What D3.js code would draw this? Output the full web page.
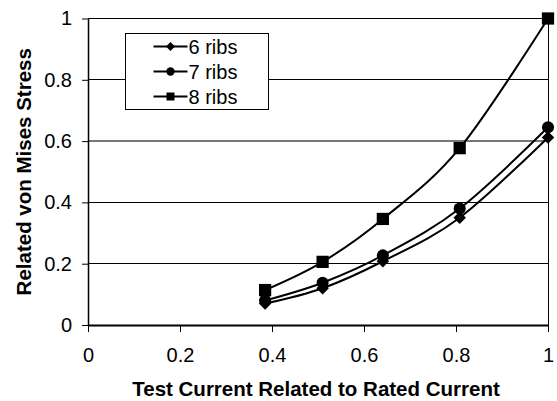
<!DOCTYPE html>
<html>
<head>
<meta charset="utf-8">
<script src="https://cdn.jsdelivr.net/npm/d3@7"></script>
<style>
  body { margin: 0; background: #fff; }
  svg { display: block; font-family: Arial, 'Liberation Sans', sans-serif; }
</style>
</head>
<body>
<div id="chart"></div>
<script>
const currents = [0.385, 0.51, 0.641, 0.808, 1.0]
const ribs6 = [0.07, 0.12, 0.208, 0.35, 0.612]
const ribs7 = [0.08, 0.138, 0.227, 0.38, 0.645]
const ribs8 = [0.114, 0.206, 0.346, 0.577, 1.0]
const seriesNames = ['6 ribs', '7 ribs', '8 ribs']
const xTicks = [0, 0.2, 0.4, 0.6, 0.8, 1]
const yTicks = [0, 0.2, 0.4, 0.6, 0.8, 1]

const width = 557
const height = 401
const margin = { top: 18.5, right: 9, bottom: 76, left: 88 }

const svg = d3.select('#chart')
  .append('svg')
  .attr('width', width)
  .attr('height', height)

const x = d3.scaleLinear()
  .domain([0, 1])
  .range([margin.left, width - margin.right])

const y = d3.scaleLinear()
  .domain([0, 1])
  .range([height - margin.bottom, margin.top])

// gridlines
svg.append('g')
  .selectAll('line')
  .data(yTicks.filter((d) => d > 0))
  .join('line')
  .attr('x1', x(0))
  .attr('x2', x(1))
  .attr('y1', (d) => y(d))
  .attr('y2', (d) => y(d))
  .attr('stroke', (d) => (d === 0.6 ? '#777' : '#000'))
  .attr('stroke-width', (d) => (d === 0.6 ? 1.3 : 1))
  .attr('shape-rendering', 'crispEdges')

// right border
svg.append('line')
  .attr('x1', x(1)).attr('x2', x(1))
  .attr('y1', y(1)).attr('y2', y(0))
  .attr('stroke', '#000')
  .attr('shape-rendering', 'crispEdges')

const xAxis = d3.axisBottom(x)
  .tickValues(xTicks)
  .tickFormat(d3.format('~g'))
  .tickSize(7)
  .tickSizeOuter(0)

const yAxis = d3.axisLeft(y)
  .tickValues(yTicks)
  .tickFormat(d3.format('~g'))
  .tickSize(6)
  .tickSizeOuter(0)

svg.append('g')
  .attr('transform', `translate(0, ${y(0)})`)
  .call(xAxis)
  .call((g) => g.select('.domain').attr('stroke-width', 2))
  .call((g) => g.selectAll('.tick line').attr('stroke-width', 1))
  .call((g) => g.selectAll('text')
    .attr('font-size', 20)
    .attr('font-family', 'Arial, Liberation Sans, sans-serif')
    .attr('fill', '#000')
    .attr('y', 37)
    .attr('dy', null))

svg.append('g')
  .attr('transform', `translate(${x(0)}, 0)`)
  .call(yAxis)
  .call((g) => g.select('.domain').attr('stroke-width', 1.5))
  .call((g) => g.selectAll('text')
    .attr('font-size', 20)
    .attr('font-family', 'Arial, Liberation Sans, sans-serif')
    .attr('fill', '#000')
    .attr('x', -16))

// axis titles
svg.append('text')
  .attr('x', 316)
  .attr('y', 396)
  .attr('text-anchor', 'middle')
  .attr('font-size', 20.5)
  .attr('font-weight', 'bold')
  .text('Test Current Related to Rated Current')

svg.append('text')
  .attr('transform', `translate(31, ${(y(0) + y(1)) / 2}) rotate(-90)`)
  .attr('text-anchor', 'middle')
  .attr('font-size', 20.5)
  .attr('font-weight', 'bold')
  .text('Related von Mises Stress')

// diamonds are drawn as squares turned 45 degrees, like the original
const series = [
  { name: seriesNames[0], values: ribs6, shape: d3.symbolSquare, rot: 45 },
  { name: seriesNames[1], values: ribs7, shape: d3.symbolCircle, rot: 0 },
  { name: seriesNames[2], values: ribs8, shape: d3.symbolSquare, rot: 0 }
]

const line = d3.line()
  .x((d) => x(d[0]))
  .y((d) => y(d[1]))
  .curve(d3.curveCatmullRom.alpha(0))

const markerSize = { '6 ribs': 78, '7 ribs': 115, '8 ribs': 150 }
const legendSize = { '6 ribs': 40, '7 ribs': 55, '8 ribs': 64 }

const seriesGroup = svg.append('g')
  .selectAll('g')
  .data(series)
  .join('g')

seriesGroup.append('path')
  .attr('d', (s) => line(currents.map((c, i) => [c, s.values[i]])))
  .attr('fill', 'none')
  .attr('stroke', '#000')
  .attr('stroke-width', 2)

seriesGroup.selectAll('path.marker')
  .data((s) => currents.map((c, i) => ({ c, v: s.values[i], s })))
  .join('path')
  .attr('class', 'marker')
  .attr('transform', (d) => `translate(${x(d.c)}, ${y(d.v)}) rotate(${d.s.rot})`)
  .attr('d', (d) => d3.symbol(d.s.shape, markerSize[d.s.name])())
  .attr('fill', '#000')

// legend
const legend = svg.append('g')
  .attr('transform', 'translate(125.5, 33.5)')

legend.append('rect')
  .attr('width', 143)
  .attr('height', 76)
  .attr('fill', '#fff')
  .attr('stroke', '#000')

const legendItem = legend.selectAll('.legend')
  .data(series)
  .join('g')
  .attr('transform', (d, i) => `translate(0, ${13 + i * 25})`)

legendItem.append('line')
  .attr('x1', 28)
  .attr('x2', 62)
  .attr('stroke', '#000')
  .attr('stroke-width', 2)

legendItem.append('path')
  .attr('transform', (d) => `translate(45, 0) rotate(${d.rot})`)
  .attr('d', (d) => d3.symbol(d.shape, legendSize[d.name])())
  .attr('fill', '#000')

legendItem.append('text')
  .attr('x', 63)
  .attr('dy', '0.35em')
  .attr('font-size', 20)
  .text((d) => d.name)
</script>
</body>
</html>
